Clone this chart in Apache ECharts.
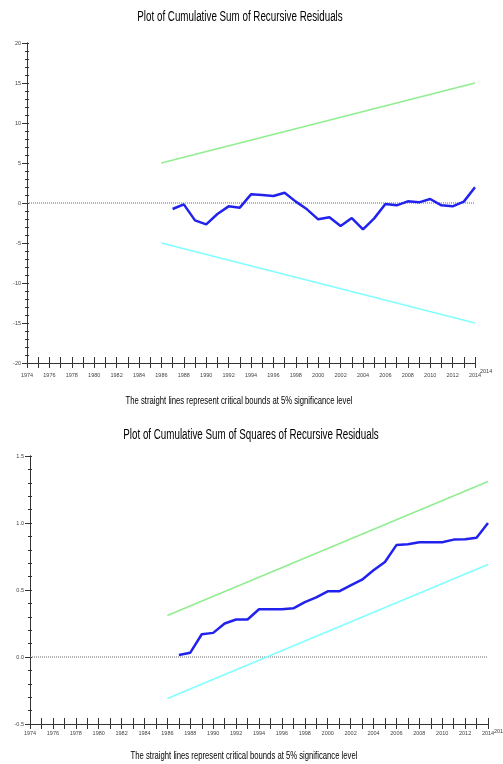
<!DOCTYPE html>
<html><head><meta charset="utf-8">
<script src="https://cdn.jsdelivr.net/npm/echarts@6/dist/echarts.min.js"></script>
<style>html,body{margin:0;padding:0;background:#fff}#c{width:503px;height:764px}</style>
</head><body><div id="c"></div>
<script>
var years = [1987,1988,1989,1990,1991,1992,1993,1994,1995,1996,1997,1998,1999,2000,2001,2002,2003,2004,2005,2006,2007,2008,2009,2010,2011,2012,2013,2014];
var cusum = [-0.75,-0.17,-2.17,-2.67,-1.38,-0.42,-0.58,1.08,1.0,0.88,1.29,0.17,-0.79,-2.04,-1.79,-2.88,-1.88,-3.29,-1.92,-0.13,-0.29,0.21,0.08,0.5,-0.29,-0.42,0.17,1.96];
var cusumsq = [0.015,0.032,0.17,0.18,0.25,0.28,0.28,0.356,0.356,0.356,0.363,0.41,0.445,0.49,0.49,0.535,0.577,0.647,0.709,0.835,0.842,0.856,0.857,0.857,0.876,0.878,0.89,1.0];
var boundYears = [1986, 2014];
var cusumUpper = [5, 15];
var cusumLower = [-5, -15];
var sqUpper = [0.31, 1.31];
var sqLower = [-0.31, 0.69];
var zeroYears = [1974, 2014];
var zeroVals = [0, 0];

function pairs(xs, ys){ return xs.map(function(x,i){return [x, ys[i]];}); }

var FONT = '"Liberation Sans",Arial,sans-serif';
var axisCol = '#333';
var lab = {fontSize: 5.5, color: '#444', fontFamily: FONT};

function xAxes(gi){
  var base = {
    type:'value', gridIndex: gi, min:1974, max:2014, interval:1, position:'bottom',
    splitLine:{show:false},
    axisLine:{onZero:false, lineStyle:{color:axisCol, width:1}}
  };
  return [
    Object.assign({}, base, {
      axisTick:{length:5, lineStyle:{color:axisCol}},
      axisLabel:Object.assign({margin: gi===0?9:6, formatter:function(v){return v%2===0? String(v):'';}}, lab)
    }),
    Object.assign({}, base, {
      axisTick:{inside:true, length:6, lineStyle:{color:axisCol}},
      axisLabel:{show:false}
    })
  ];
}
function yAxes(gi, min, max, major, minor, fmt){
  var base = {type:'value', gridIndex: gi, min:min, max:max, position:'left', splitLine:{show:false},
    axisLine:{onZero:false, lineStyle:{color:axisCol, width:1}}};
  return [
    Object.assign({}, base, {interval: major,
      axisTick:{length:5, lineStyle:{color:axisCol}},
      minorTick:{show:true, splitNumber: Math.round(major/minor), length:2, lineStyle:{color:axisCol}},
      axisLabel:Object.assign({margin:6, formatter: fmt}, lab)}),
    Object.assign({}, base, {interval: minor,
      axisTick:{inside:true, length:2, lineStyle:{color:axisCol}},
      axisLabel:{show:false}})
  ];
}

var chart = echarts.init(document.getElementById('c'), null, {renderer:'canvas'});
var x0 = xAxes(0), x1 = xAxes(1);
var y0 = yAxes(0, -20, 20, 5, 1, function(v){return String(v);});
var y1 = yAxes(1, -0.5, 1.5, 0.5, 0.1, function(v){return v.toFixed(1);});

function line(xi, yi, data, color, width, type){
  return {type:'line', xAxisIndex:xi, yAxisIndex:yi, data:data, symbol:'none', silent:true,
    lineStyle:{color:color, width:width, type:type||'solid'}, animation:false};
}

function txt(t, x, y, size, sx){
  return {type:'text', x:x, y:y, scaleX:sx, silent:true,
    style:{text:t, font:size+'px '+FONT, fill:'#000', align:'center', verticalAlign:'middle'}};
}

chart.setOption({
  animation:false,
  grid:[
    {left:27, right:28, top:43, height:320},
    {left:30, right:15, top:456, height:268}
  ],
  xAxis:[x0[0], x0[1], x1[0], x1[1]],
  yAxis:[y0[0], y0[1], y1[0], y1[1]],
  series:[
    line(0,0,pairs(zeroYears, zeroVals), '#666', 1, 'dotted'),
    line(0,0,pairs(boundYears, cusumUpper), '#90ee90', 1.5),
    line(0,0,pairs(boundYears, cusumLower), '#80ffff', 1.5),
    line(0,0,pairs(years, cusum), '#2222ee', 2.5),
    line(2,2,pairs(zeroYears, zeroVals), '#666', 1, 'dotted'),
    line(2,2,pairs(boundYears, sqUpper), '#90ee90', 1.5),
    line(2,2,pairs(boundYears, sqLower), '#80ffff', 1.5),
    line(2,2,pairs(years, cusumsq), '#2222ee', 2.5)
  ],
  graphic:[
    txt('Plot of Cumulative Sum of Recursive Residuals', 240, 17, 14, 0.70),
    txt('The straight lines represent critical bounds at 5% significance level', 239, 401, 11, 0.70),
    txt('Plot of Cumulative Sum of Squares of Recursive Residuals', 251, 435, 14, 0.70),
    txt('The straight lines represent critical bounds at 5% significance level', 244, 756, 11, 0.70),
    {type:'text', x:480, y:368, silent:true, style:{text:'2014', font:'5.5px '+FONT, fill:'#444'}},
    {type:'text', x:494, y:728, silent:true, style:{text:'2014', font:'5.5px '+FONT, fill:'#444'}}
  ]
});
</script>
</body></html>
